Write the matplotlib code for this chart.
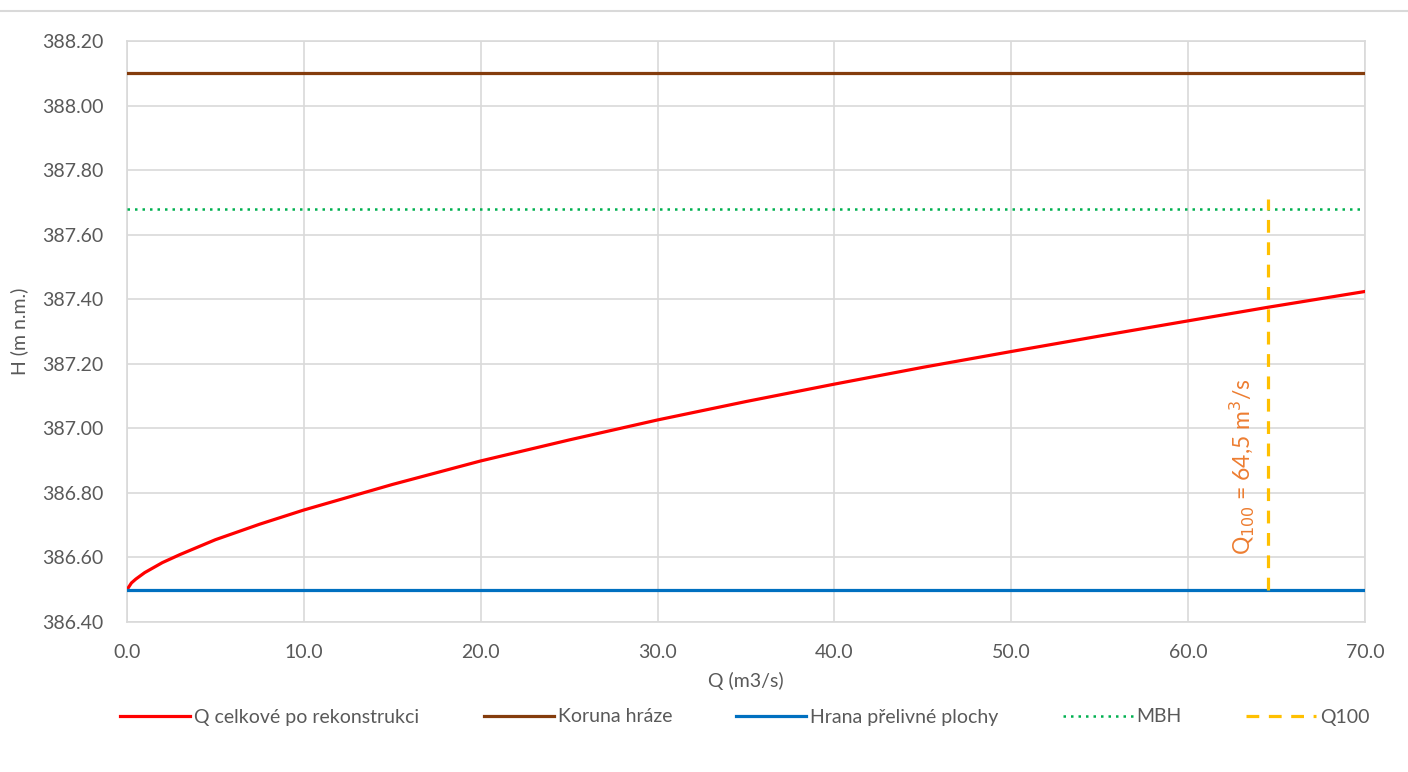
import matplotlib.pyplot as plt
from matplotlib.lines import Line2D

plt.rcParams['font.family'] = ['Lato', 'DejaVu Sans']

# průtok Q (m3/s) a hladina H (m n.m.) po rekonstrukci
q_vals = [0.0, 0.25, 0.5, 1.0, 2.0, 3.0, 5.0, 7.5, 10.0, 15.0, 20.0, 25.0, 30.0,
          35.0, 40.0, 45.0, 50.0, 55.0, 60.0, 64.5, 70.0]
h_vals = [386.50, 386.521, 386.533, 386.553, 386.584, 386.609, 386.655, 386.703,
          386.747, 386.826, 386.899, 386.964, 387.026, 387.083, 387.137,
          387.189, 387.238, 387.286, 387.333, 387.375, 387.424]

koruna_hraze = 388.10
hrana_prelivu = 386.50
mbh = 387.68
q100 = 64.5
q100_top = 387.71

x_ticks = [0, 10, 20, 30, 40, 50, 60, 70]
y_ticks = [386.4, 386.6, 386.8, 387.0, 387.2, 387.4, 387.6, 387.8, 388.0, 388.2]

txt = '#595959'
grid_c = '#D9D9D9'

fig = plt.figure(figsize=(14.08, 7.72), dpi=100)
ax = fig.add_axes([0.0902, 0.1943, 0.8793, 0.7526])

ax.plot(q_vals, h_vals, color='#FF0000', linewidth=2.3, label='Q celkové po rekonstrukci', zorder=4)
ax.plot([0, 70], [koruna_hraze, koruna_hraze], color='#843C0C', linewidth=2.3, label='Koruna hráze', zorder=4)
ax.plot([0, 70], [hrana_prelivu, hrana_prelivu], color='#0070C0', linewidth=2.3, label='Hrana přelivné plochy', zorder=4)
ax.plot([0, 70], [mbh, mbh], color='#00B050', linewidth=1.8, linestyle=(0, (1, 2)), label='MBH', zorder=4)
ax.plot([q100, q100], [hrana_prelivu, q100_top], color='#FFC000', linewidth=2.3,
        linestyle=(0, (4, 3)), label='Q100', zorder=5)

ax.text(63.0, 386.88, r'Q$_{100}$ = 64,5 m$^3$/s', rotation=90, color='#ED7D31',
        fontsize=16.5, ha='center', va='center')

ax.set_xlim(0, 70)
ax.set_ylim(386.4, 388.2)
ax.set_xticks(x_ticks)
ax.set_xticklabels([f'{v:.1f}' for v in x_ticks])
ax.set_yticks(y_ticks)
ax.set_yticklabels([f'{v:.2f}' for v in y_ticks])
ax.tick_params(length=0, labelsize=14, colors=txt)
ax.tick_params(axis='x', pad=16)
ax.tick_params(axis='y', pad=17)
ax.grid(True, color=grid_c, linewidth=1.2)
for s in ax.spines.values():
    s.set_color(grid_c)
    s.set_linewidth(1.2)

ax.set_xlabel('Q (m3/s)', fontsize=14, color=txt, labelpad=8)
ax.set_ylabel('H (m n.m.)', fontsize=14, color=txt, labelpad=10)

# tenká čára nad grafem
fig.add_artist(Line2D([0, 1], [1 - 11 / 772, 1 - 11 / 772], color='#D9D9D9', linewidth=1.5))

leg = fig.legend(loc='center', bbox_to_anchor=(0.529, 1 - 717 / 772), ncol=5, frameon=False,
                 fontsize=14, handlelength=3.6, columnspacing=3.3, handletextpad=0.2)
for t in leg.get_texts():
    t.set_color(txt)

fig.savefig('out.png', dpi=100)
